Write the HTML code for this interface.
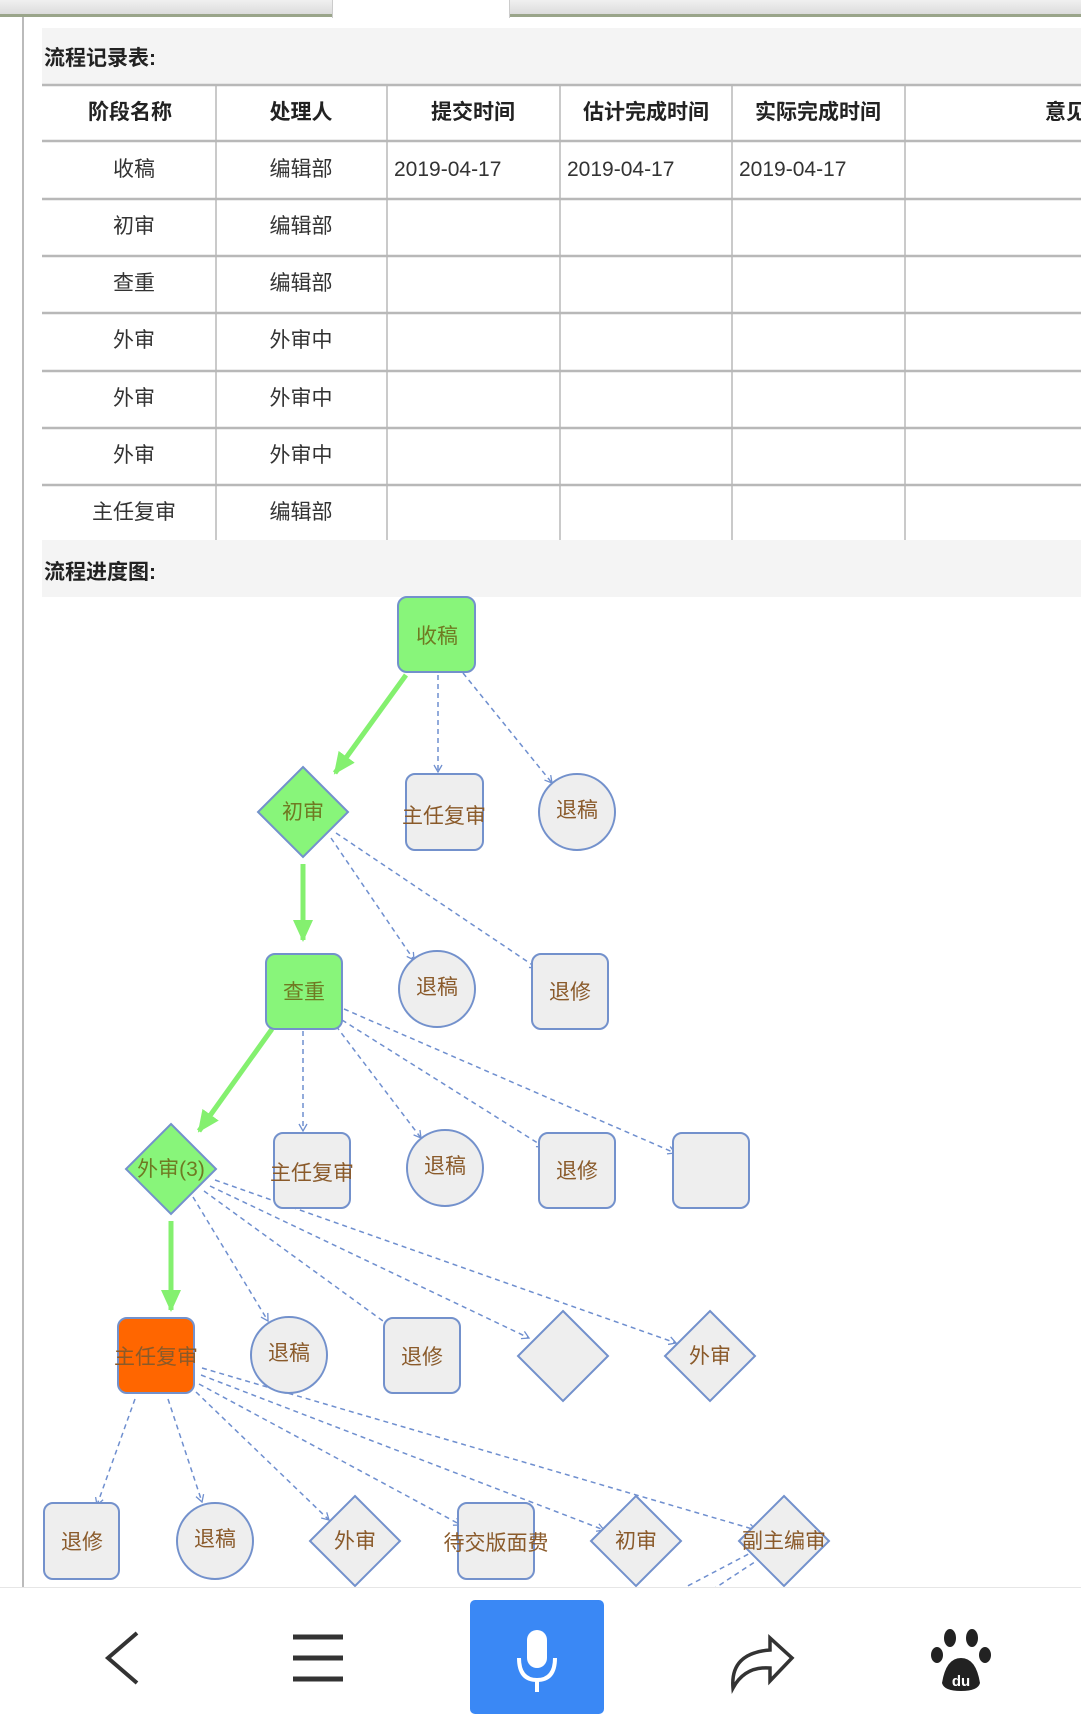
<!DOCTYPE html>
<html><head><meta charset="utf-8"><style>
*{margin:0;padding:0;box-sizing:border-box}
body{width:1081px;height:1730px;overflow:hidden;background:#fff;position:relative;font-family:"Liberation Sans","Noto Sans CJK SC",sans-serif}
.abs{position:absolute}
.t{font-size:21px;color:#333}
</style></head><body>
<div class="abs" style="left:0;top:0;width:1081px;height:17px;background:linear-gradient(#f0f0f0,#dcdcdc);border-bottom:3px solid #9aa58a"></div>
<div class="abs" style="left:332px;top:0;width:178px;height:18px;background:#fff;border-left:1px solid #ccc;border-right:1px solid #ccc"></div>
<div class="abs" style="left:22px;top:17px;width:2px;height:1571px;background:#bbb"></div>
<div class="abs" style="left:42px;top:28px;width:1039px;height:56px;background:#f4f4f4"></div>
<div class="abs" style="left:44px;top:42px;font-size:21px;font-weight:bold;color:#222">流程记录表:</div>
<svg class="abs" style="left:0;top:0" width="1081" height="600">
<g stroke="#b8b8b8" stroke-width="2.5">
<line x1="42" y1="85" x2="1081" y2="85"/><line x1="42" y1="141" x2="1081" y2="141"/><line x1="42" y1="199" x2="1081" y2="199"/><line x1="42" y1="256" x2="1081" y2="256"/><line x1="42" y1="313" x2="1081" y2="313"/><line x1="42" y1="371" x2="1081" y2="371"/><line x1="42" y1="428" x2="1081" y2="428"/><line x1="42" y1="485" x2="1081" y2="485"/>
</g>
<g stroke="#b8b8b8" stroke-width="1.5">
<line x1="216" y1="85" x2="216" y2="540"/><line x1="387" y1="85" x2="387" y2="540"/><line x1="560" y1="85" x2="560" y2="540"/><line x1="732" y1="85" x2="732" y2="540"/><line x1="905" y1="85" x2="905" y2="540"/>
</g>
<g font-size="21" fill="#222" font-weight="bold" text-anchor="middle" font-family="Liberation Sans,Noto Sans CJK SC,sans-serif">
<text x="130" y="119">阶段名称</text><text x="301" y="119">处理人</text><text x="473" y="119">提交时间</text><text x="646" y="119">估计完成时间</text><text x="818" y="119">实际完成时间</text><text x="1066" y="119">意见</text>
</g>
<g font-size="21" fill="#333" text-anchor="middle" font-family="Liberation Sans,Noto Sans CJK SC,sans-serif">
<text x="134" y="176">收稿</text><text x="301" y="176">编辑部</text>
<text x="134" y="233">初审</text><text x="301" y="233">编辑部</text>
<text x="134" y="290">查重</text><text x="301" y="290">编辑部</text>
<text x="134" y="347">外审</text><text x="301" y="347">外审中</text>
<text x="134" y="405">外审</text><text x="301" y="405">外审中</text>
<text x="134" y="462">外审</text><text x="301" y="462">外审中</text>
<text x="134" y="519">主任复审</text><text x="301" y="519">编辑部</text>
</g>
<g font-size="21" fill="#333" font-family="Liberation Sans,sans-serif">
<text x="394" y="176">2019-04-17</text><text x="567" y="176">2019-04-17</text><text x="739" y="176">2019-04-17</text>
</g>
</svg>
<div class="abs" style="left:42px;top:540px;width:1039px;height:57px;background:#f4f4f4"></div>
<div class="abs" style="left:44px;top:556px;font-size:21px;font-weight:bold;color:#222">流程进度图:</div>
<svg class="abs" style="left:0;top:0" width="1081" height="1588">
<defs>
<marker id="o" markerWidth="10" markerHeight="10" refX="8" refY="5" orient="auto" markerUnits="userSpaceOnUse"><path d="M1,1 L8,5 L1,9" fill="none" stroke="#6f8fcf" stroke-width="1.3"/></marker>
<marker id="g" markerWidth="24" markerHeight="24" refX="20" refY="12" orient="auto" markerUnits="userSpaceOnUse"><path d="M0,2 L22,12 L0,22 Z" fill="#84f06f"/></marker>
</defs>
<g stroke="#6f8fcf" stroke-width="1.5" stroke-dasharray="5,4" fill="none" marker-end="url(#o)">
<line x1="438" y1="675" x2="438" y2="772"/><line x1="463" y1="673" x2="552" y2="783"/>
<line x1="331" y1="838" x2="414" y2="960"/><line x1="336" y1="833" x2="537" y2="968"/>
<line x1="303" y1="1031" x2="303" y2="1131"/><line x1="336" y1="1026" x2="421" y2="1138"/><line x1="342" y1="1020" x2="544" y2="1147"/><line x1="344" y1="1009" x2="675" y2="1153"/>
<line x1="193" y1="1197" x2="268" y2="1321"/><line x1="204" y1="1191" x2="394" y2="1329"/><line x1="210" y1="1186" x2="529" y2="1338"/><line x1="215" y1="1180" x2="676" y2="1343"/>
<line x1="135" y1="1399" x2="97" y2="1505"/><line x1="168" y1="1399" x2="202" y2="1502"/><line x1="196" y1="1392" x2="329" y2="1520"/><line x1="199" y1="1384" x2="461" y2="1525"/><line x1="201" y1="1375" x2="604" y2="1530"/><line x1="202" y1="1368" x2="756" y2="1530"/>
<line x1="680" y1="1590" x2="760" y2="1548"/><line x1="712" y1="1590" x2="770" y2="1552"/>
</g>
<g stroke="#84f06f" stroke-width="5" marker-end="url(#g)">
<line x1="406" y1="675" x2="335" y2="773"/><line x1="303" y1="864" x2="303" y2="940"/><line x1="272" y1="1029" x2="199" y2="1131"/><line x1="171" y1="1221" x2="171" y2="1310"/>
</g>
<g stroke="#7391cc" stroke-width="2">
<rect x="398" y="597" width="77" height="75" rx="9" fill="#88f57a"/>
<polygon points="303,767 348,812 303,857 258,812" fill="#88f57a"/>
<rect x="266" y="954" width="76" height="75" rx="9" fill="#88f57a"/>
<polygon points="171,1124 216,1169 171,1214 126,1169" fill="#88f57a"/>
<rect x="118" y="1318" width="76" height="75" rx="9" fill="#ff6600"/>
<g fill="#eeeeee">
<rect x="406" y="774" width="77" height="76" rx="9"/><ellipse cx="577" cy="812" rx="38" ry="38"/>
<ellipse cx="437" cy="989" rx="38" ry="38"/><rect x="532" y="954" width="76" height="75" rx="9"/>
<rect x="274" y="1133" width="76" height="75" rx="9"/><ellipse cx="445" cy="1168" rx="38" ry="38"/><rect x="539" y="1133" width="76" height="75" rx="9"/><rect x="673" y="1133" width="76" height="75" rx="9"/>
<ellipse cx="289" cy="1355" rx="38" ry="38"/><rect x="384" y="1318" width="76" height="75" rx="9"/>
<polygon points="563,1311 608,1356 563,1401 518,1356"/><polygon points="710,1311 755,1356 710,1401 665,1356"/>
<rect x="44" y="1503" width="75" height="76" rx="9"/><ellipse cx="215" cy="1541" rx="38" ry="38"/>
<polygon points="355,1496 400,1541 355,1586 310,1541"/><rect x="458" y="1503" width="76" height="76" rx="9"/>
<polygon points="636,1496 681,1541 636,1586 591,1541"/><polygon points="784,1496 829,1541 784,1586 739,1541"/>
</g>
</g>
<g font-size="21" text-anchor="middle" font-family="Liberation Sans,Noto Sans CJK SC,sans-serif">
<g fill="#6f7a22"><text x="437" y="643">收稿</text><text x="303" y="819">初审</text><text x="304" y="999">查重</text><text x="171" y="1176">外审(3)</text></g>
<g fill="#8a5a2a"><text x="156" y="1364">主任复审</text>
<text x="444" y="823">主任复审</text><text x="577" y="817">退稿</text>
<text x="437" y="994">退稿</text><text x="570" y="999">退修</text>
<text x="312" y="1180">主任复审</text><text x="445" y="1173">退稿</text><text x="577" y="1178">退修</text>
<text x="289" y="1360">退稿</text><text x="422" y="1364">退修</text><text x="710" y="1363">外审</text>
<text x="82" y="1549">退修</text><text x="215" y="1546">退稿</text><text x="355" y="1548">外审</text><text x="496" y="1550">待交版面费</text><text x="636" y="1548">初审</text><text x="784" y="1548">副主编审</text></g>
</g>
</svg>
<div class="abs" style="left:0;top:1587px;width:1081px;height:143px;background:#fff;border-top:1px solid #e6e6e6"></div>
<svg class="abs" style="left:0;top:1588px" width="1081" height="142">
<path d="M137,45 L108,70 L137,95" fill="none" stroke="#333" stroke-width="4"/>
<g stroke="#333" stroke-width="5"><line x1="293" y1="49" x2="343" y2="49"/><line x1="293" y1="70" x2="343" y2="70"/><line x1="293" y1="91" x2="343" y2="91"/></g>
<rect x="470" y="12" width="134" height="114" rx="5" fill="#3a88f5"/>
<rect x="527" y="42" width="20" height="38" rx="10" fill="#fff"/>
<path d="M519,70 Q519,92 537,92 Q555,92 555,70" fill="none" stroke="#fff" stroke-width="4"/>
<line x1="537" y1="92" x2="537" y2="104" stroke="#fff" stroke-width="4"/>
<path d="M733,100 Q730,65 770,62 L770,50 L792,70 L770,93 L770,80 Q745,78 733,100 Z" fill="none" stroke="#333" stroke-width="3.5"/>
<g fill="#222"><ellipse cx="950" cy="50" rx="6" ry="9"/><ellipse cx="972" cy="50" rx="6" ry="9"/><ellipse cx="937" cy="67" rx="6" ry="8"/><ellipse cx="985" cy="67" rx="6" ry="8"/><path d="M942,95 Q946,70 961,70 Q976,70 980,95 Q978,103 961,103 Q944,103 942,95Z"/></g>
<text x="961" y="98" font-size="15" fill="#fff" text-anchor="middle" font-weight="bold" font-family="Liberation Sans,sans-serif">du</text>
</svg>
</body></html>
